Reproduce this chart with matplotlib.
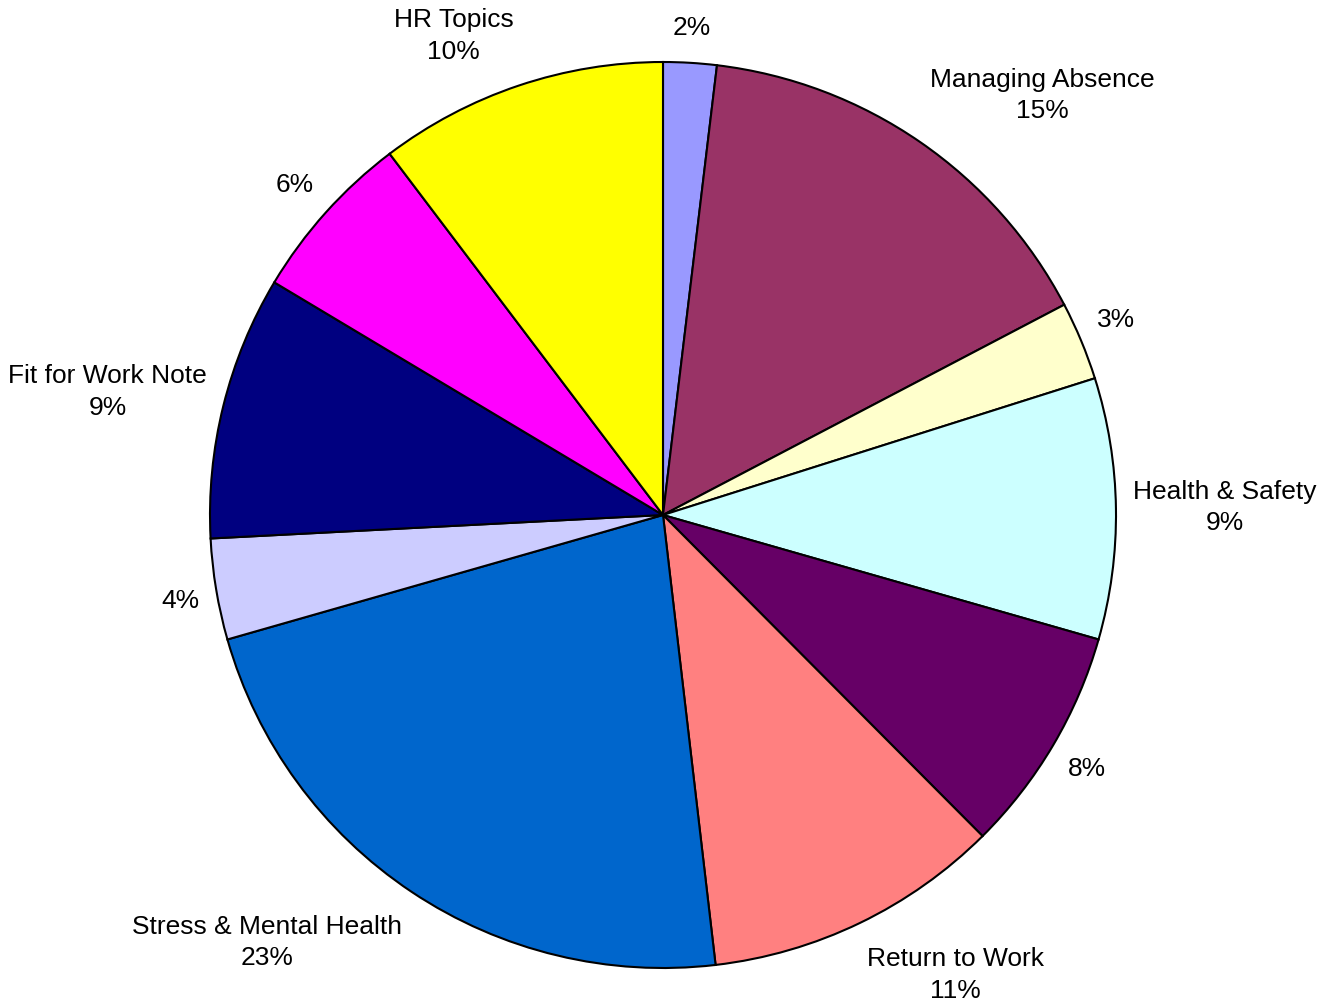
import numpy as np
import matplotlib
matplotlib.use("Agg")
import matplotlib.pyplot as plt

categories = ["", "Managing Absence", "", "Health & Safety", "", "Return to Work",
              "Stress & Mental Health", "", "Fit for Work Note", "", "HR Topics"]
values = [1.9, 15.4, 2.8, 9.3, 8.1, 10.6, 22.4, 3.6, 9.4, 6.1, 10.3]
pct_labels = ["2%", "15%", "3%", "9%", "8%", "11%", "23%", "4%", "9%", "6%", "10%"]
colors = ["#9999FF", "#993366", "#FFFFCC", "#CCFFFF", "#660066", "#FF8080",
          "#0066CC", "#CCCCFF", "#000080", "#FF00FF", "#FFFF00"]

plt.rcParams['font.family'] = ['Liberation Sans', 'DejaVu Sans']

fig = plt.figure(figsize=(13.2, 10.01), dpi=100)
W, H = 1320, 1001
cx, cy, R = 663, 515, 453
ax = fig.add_axes([(cx - R) / W, (H - cy - R) / H, 2 * R / W, 2 * R / H])

wedges, _ = ax.pie(values, colors=colors, startangle=90, counterclock=False,
                   radius=1.0, wedgeprops=dict(edgecolor="black", linewidth=1.5))
ax.set_xlim(-1, 1)
ax.set_ylim(-1, 1)
ax.set_aspect("equal")
ax.axis("off")

px = 1.0 / R
for w, cat, pl in zip(wedges, categories, pct_labels):
    mid = np.deg2rad((w.theta1 + w.theta2) / 2)
    sx, sy = np.cos(mid), np.sin(mid)
    ha = "center" if abs(sx) < 0.2 else ("left" if sx > 0 else "right")
    va = "center" if abs(sy) < 0.3 else ("bottom" if sy > 0 else "top")
    x = (1.05 if ha == "center" else 1.037) * sx
    y = 1.05 * sy
    if va == "center":
        y += np.clip(sy / 0.16, -1, 1) * 8 * px
    elif va == "top" and sy < -0.7:
        y -= 4 * px
    txt = f"{cat}\n{pl}" if cat else pl
    ax.text(x, y, txt, ha=ha, va=va, fontsize=19, multialignment="center",
            linespacing=1.4, clip_on=False)

fig.savefig("out.png", dpi=100)
